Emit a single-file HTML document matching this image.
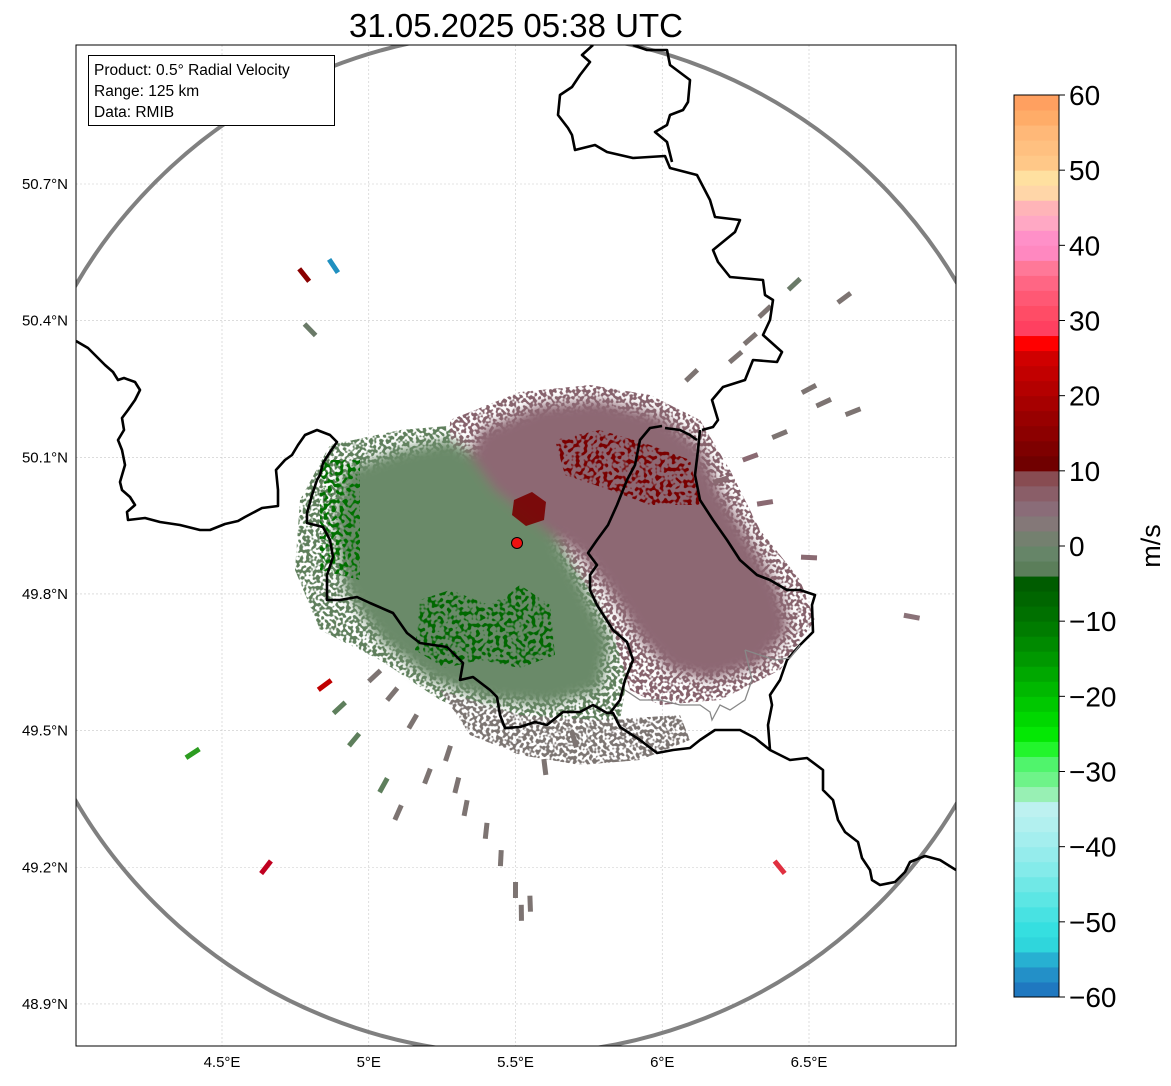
<!DOCTYPE html>
<html><head><meta charset="utf-8"><style>
body{margin:0;background:#fff;width:1171px;height:1081px;overflow:hidden;font-family:"Liberation Sans",sans-serif}
</style></head><body>
<svg id="fig" width="1171" height="1081" xmlns="http://www.w3.org/2000/svg">
<defs>
<clipPath id="plotclip"><rect x="76" y="45" width="880" height="1001"/></clipPath>
<filter id="speck" x="0" y="0" width="100%" height="100%">
<feTurbulence type="fractalNoise" baseFrequency="0.3" numOctaves="1" seed="3" result="n"/>
<feColorMatrix in="n" type="matrix" values="0 0 0 0 1 0 0 0 0 1 0 0 0 0 1 0 0 0 -9 5.0" result="m"/>
<feComposite in="SourceGraphic" in2="m" operator="in"/>
</filter>
<filter id="speck2" x="0" y="0" width="100%" height="100%">
<feTurbulence type="fractalNoise" baseFrequency="0.25" numOctaves="1" seed="7" result="n"/>
<feColorMatrix in="n" type="matrix" values="0 0 0 0 1 0 0 0 0 1 0 0 0 0 1 0 0 0 -9 4.6" result="m"/>
<feComposite in="SourceGraphic" in2="m" operator="in"/>
</filter>
<filter id="soft"><feGaussianBlur stdDeviation="6"/></filter>
</defs>
<text x="516" y="37" text-anchor="middle" font-size="33" fill="#000">31.05.2025 05:38 UTC</text>
<g clip-path="url(#plotclip)">
<g id="grid"></g>
<g>
<g filter="url(#speck)">
<path fill="#5f7f5c" d="M300,500 L330,445 L400,430 L460,425 L500,445 L560,520 L600,600 L630,660 L620,720 L560,730 L500,725 L440,700 L380,660 L320,630 L295,570 Z"/>
<path fill="#86626c" d="M450,420 L520,392 L590,385 L650,395 L700,420 L730,470 L760,530 L800,580 L815,620 L780,670 L720,700 L660,705 L630,690 L615,640 L590,590 L550,540 L500,510 L450,470 Z"/>
<path fill="#7c7472" d="M440,690 L520,715 L600,720 L680,715 L690,740 L640,760 L580,765 L520,755 L470,735 Z"/>
</g>
<g filter="url(#soft)">
<path fill="#6b8a69" d="M345,470 L400,450 L450,440 L500,470 L545,520 L580,580 L610,640 L600,690 L550,705 L490,700 L430,680 L380,640 L345,590 L335,520 Z"/>
<path fill="#8d6873" d="M480,430 L540,405 L600,400 L660,415 L700,445 L720,490 L750,540 L780,590 L790,630 L760,665 L710,680 L670,670 L640,640 L615,600 L585,560 L540,525 L495,490 L470,455 Z"/>
</g>
<g filter="url(#speck2)">
<path fill="#006800" d="M420,600 L450,590 L490,605 L520,585 L550,605 L555,655 L520,668 L480,660 L445,668 L415,650 Z"/>
<path fill="#007000" d="M320,460 L360,460 L360,580 L320,570 Z"/>
<path fill="#7a0000" d="M555,440 L600,430 L650,445 L690,460 L700,505 L650,505 L610,490 L565,475 Z"/>
</g>
<path fill="#780000" opacity="0.9" d="M514,500 L532,492 L546,502 L544,520 L526,526 L512,515 Z"/>
<g id="streaks" stroke-width="5" stroke-linecap="butt"></g>
</g>
<circle cx="517" cy="543" r="511" fill="none" stroke="#808080" stroke-width="4"/>
<g fill="none" stroke="#000" stroke-width="2.6" stroke-linejoin="round">
<polyline points="593,45 582,55 590,62 580,75 572,87 560,95 558,115 568,128 572,135 575,150 595,145 607,152 633,158 665,156 670,168 697,175 710,200 715,217 740,220 735,232 713,250 718,262 730,277 763,280 765,295 773,300 770,320 763,335 782,352 777,362 753,360 745,380 723,387 712,400 718,420 713,427 702,430"/>
<polyline points="633,45 647,50 667,50 670,65 690,80 688,102 683,110 670,115 667,125 655,132 667,142 672,162"/>
<polyline points="700,430 698,450 695,475 700,500 713,520 727,540 740,560 757,575 770,580 787,590 800,590 815,595 812,605 813,632 800,645 787,660 780,680 770,695 772,705 768,725 770,750"/>
<polyline points="665,428 680,430 690,435 697,440"/>
<polyline points="662,426 650,428 640,440 635,465 627,480 617,505 608,525 597,540 588,553 597,565 590,575 590,590 597,605 613,630 627,642 633,660 625,680 620,700 610,713"/>
<polyline points="76,341 88,348 95,355 105,365 113,372 118,380 124,378 135,382 140,390 135,400 128,410 122,418 124,430 118,440 122,450 125,465 120,482 122,490 130,497 135,505 127,512 128,520 145,518 160,522 180,525 200,530 210,530 225,524 238,521 245,517 262,508 278,506 278,490 276,470 285,460 292,455 298,445 305,435 317,430 330,435 337,442 330,452 323,463 320,475 317,480 312,495 307,513 307,523 323,527 330,540 333,557 327,575 327,600 340,600 357,597 370,603 393,613 407,633 420,643 447,647 463,663 460,680 473,677 490,690 497,697 500,715 505,728 520,727 535,722 547,725 563,712 580,712 593,705 607,713 613,713 620,727 640,740 657,753 673,750 690,748 700,740 715,730 740,730 755,738 770,750 790,760 807,758 823,770 823,790 833,800 838,820 845,832 858,842 862,858 870,870 872,880 880,885 895,882 905,872 910,862 925,856 940,860 956,870"/>
</g>
<g fill="none" stroke="#888" stroke-width="1.3">
<polyline points="745,650 752,680 745,700 730,710 720,705 712,720 710,712 700,705 680,705 660,700 640,700 625,690"/>
<polyline points="745,650 760,655 775,660 790,658 800,645"/>
</g>
<circle cx="517" cy="543" r="5.5" fill="#ee1111" stroke="#000" stroke-width="1"/>
<g>
<rect x="88.5" y="55.5" width="246" height="70" fill="#fff" stroke="#000" stroke-width="1"/>
<text x="94" y="75" font-size="15.5" fill="#000">Product: 0.5° Radial Velocity</text>
<text x="94" y="96" font-size="15.5" fill="#000">Range: 125 km</text>
<text x="94" y="117" font-size="15.5" fill="#000">Data: RMIB</text>
</g>
</g>
<rect x="76" y="45" width="880" height="1001" fill="none" stroke="#000" stroke-width="1"/>
<g id="axes"></g>
<g id="cbar"></g>
<text transform="translate(1160,546) rotate(-90)" text-anchor="middle" font-size="27" fill="#000">m/s</text>
</svg>
<script>
const lonTicks=[4.5,5,5.5,6,6.5];
const lonLabels=["4.5°E","5°E","5.5°E","6°E","6.5°E"];
const latTicks=[50.7,50.4,50.1,49.8,49.5,49.2,48.9];
const latLabels=["50.7°N","50.4°N","50.1°N","49.8°N","49.5°N","49.2°N","48.9°N"];
const cbarTicks=[-60,-50,-40,-30,-20,-10,0,10,20,30,40,50,60];
const cbarColors=["#1f78c0","#2390c8","#27b0d2","#2fd6dc","#35dfe0","#48e2e2","#5ce6e4","#70e8e6","#84ebea","#95ecec","#a4eeee","#b2f0ef","#bdf1f0","#98f0b4","#6ef389","#50f46c","#22f52c","#04e804","#00d800","#00c800","#00b800","#00a800","#009800","#008a00","#007c00","#007000","#006600","#005c00","#5b7e5a","#668568","#74806f","#847878","#8a6c78","#8a5e68","#884c52","#700000","#7e0000","#8c0000","#980000","#a60000","#b40000","#c20000","#d00000","#ff0000","#ff4060","#ff4c66","#ff5874","#ff6684","#ff7898","#ff88c0","#ff90c8","#ffa8c4","#ffb4b8","#ffd6a8","#ffe0a0","#ffc888","#ffc080","#ffb878","#ffac68","#ffa060"];
const streakLon=[5.02,5.08,5.15,5.2,5.27,5.3,5.33,5.4,5.45,5.5,5.52,5.55,5.1,5.05,4.95,4.9,4.85,5.6,5.7,6.1,6.25,6.3,6.35,6.45,6.5,6.55,6.65,6.4,6.3,6.2,6.35,6.5,4.4,4.65,4.8,4.88,4.78,6.62,6.85,6.4];
const streakLat=[49.62,49.58,49.52,49.4,49.45,49.38,49.33,49.28,49.22,49.15,49.1,49.12,49.32,49.38,49.48,49.55,49.6,49.42,49.48,50.28,50.32,50.36,50.42,50.48,50.25,50.22,50.2,50.15,50.1,50.05,50.0,49.88,49.45,49.2,50.38,50.52,50.5,50.45,49.75,49.2];
const streakColor=["#7d7472","#7d7472","#7d7472","#7d7472","#7d7472","#7d7472","#7d7472","#7d7472","#7d7472","#7d7472","#7d7472","#7d7472","#7d7472","#5e7f5c","#5e7f5c","#5e7f5c","#c00000","#7d7472","#7d7472","#7d7472","#7d7472","#7d7472","#7d7472","#6a7a68","#7d7472","#7d7472","#7d7472","#7d7472","#8a6a72","#8a6a72","#8a6a72","#8a6a72","#2c9c20","#c00020","#6a7a68","#2090c0","#8a0000","#7d7472","#8a7278","#e03040"];
const xScale=lon=>222+(lon-4.5)*293.5;
const yScale=lat=>184+(50.7-lat)*455.5;
const cScale=v=>997-(v+60)*902/120;
const NS="http://www.w3.org/2000/svg";
function mk(tag,attrs,parent,text){const e=document.createElementNS(NS,tag);for(const k in attrs)e.setAttribute(k,attrs[k]);if(text!==undefined)e.textContent=text;parent.appendChild(e);return e;}
const grid=document.getElementById('grid'),axes=document.getElementById('axes'),cb=document.getElementById('cbar'),st=document.getElementById('streaks');
streakLon.forEach((v,i)=>{const x=xScale(v),y=yScale(streakLat[i]);const dx=x-517,dy=y-543,d=Math.hypot(dx,dy)||1;const L=8;
const s=mk('line',{x1:x-dx/d*L,y1:y-dy/d*L,x2:x+dx/d*L,y2:y+dy/d*L,stroke:streakColor[i]},st);

});
lonTicks.forEach((v,i)=>{const x=xScale(v);
const l=mk('line',{x1:x,x2:x,y1:45,y2:1046,stroke:'#c8c8c8','stroke-width':0.6,'stroke-dasharray':'2,2'},grid);


const t=mk('text',{x:x,y:1067,'text-anchor':'middle','font-size':15,fill:'#000'},axes,lonLabels[i]);

});
latTicks.forEach((v,i)=>{const y=yScale(v);
const l=mk('line',{x1:76,x2:956,y1:y,y2:y,stroke:'#c8c8c8','stroke-width':0.6,'stroke-dasharray':'2,2'},grid);


const t=mk('text',{x:68,y:y+5,'text-anchor':'end','font-size':15,fill:'#000'},axes,latLabels[i]);

});
cbarColors.forEach((c,i)=>{const v0=-60+i*2;const y1=cScale(v0+2),y0=cScale(v0);
const r=mk('rect',{x:1014,y:y1,width:45,height:y0-y1+0.5,fill:c},cb);

});
mk('rect',{x:1014,y:cScale(60),width:45,height:cScale(-60)-cScale(60),fill:'none',stroke:'#000','stroke-width':1},cb);
cbarTicks.forEach(v=>{const y=cScale(v);
mk('line',{x1:1059,x2:1065,y1:y,y2:y,stroke:'#000','stroke-width':1},cb);
const t=mk('text',{x:1069,y:y+10,'font-size':28,fill:'#000'},cb,v<0?'\u2212'+Math.abs(v):String(v));

});
</script>
</body></html>
